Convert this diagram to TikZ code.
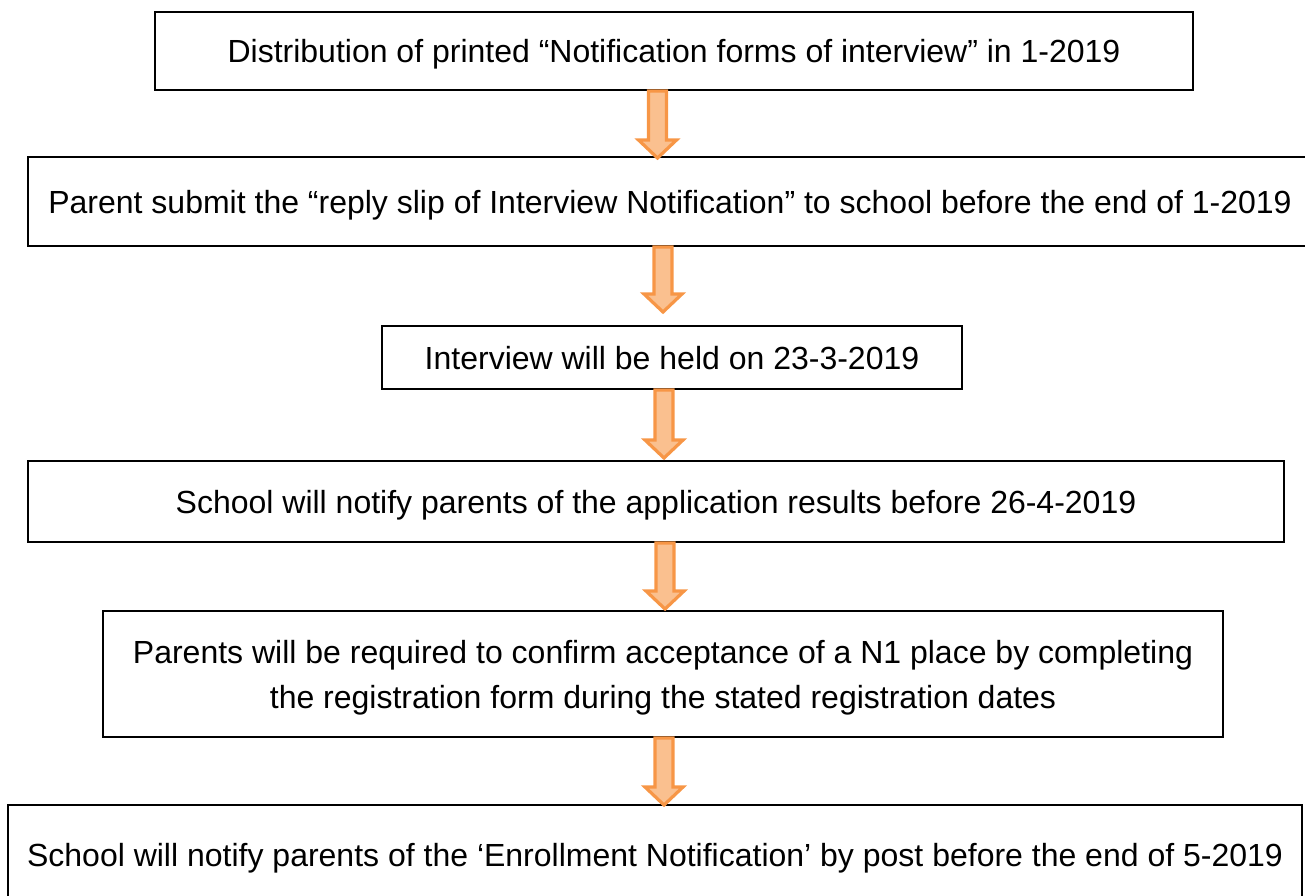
\documentclass[tikz,border=0pt]{standalone}
\usepackage{fontspec}
\setmainfont{Liberation Sans}
\usetikzlibrary{calc}
\definecolor{arrowedge}{HTML}{F79646}
\definecolor{arrowfill}{HTML}{FAC08F}
\tikzset{
  box/.style={draw=black, line width=2pt, inner sep=0pt, align=center,
    text height=23pt, text depth=0pt,
    font=\fontsize{32}{45}\selectfont},
  barrow/.style={draw=arrowedge, fill=arrowfill, line width=3.2pt, line join=miter},
}
\newcommand\blockarr[2]{%
  \draw[barrow] ($(#1)+(-9,0)$) -- ($(#2)+(-9,-19)$) -- ($(#2)+(-19,-19)$) -- ($(#2)+(0,-1)$)
    -- ($(#2)+(19,-19)$) -- ($(#2)+(9,-19)$) -- ($(#1)+(9,0)$) -- cycle;}
\begin{document}
\begin{tikzpicture}[x=1pt,y=-1pt]
\useasboundingbox (0,0) rectangle (1305,895);
\clip (0,0) rectangle (1305,895);
\node[box, minimum width=1038pt, minimum height=78pt] (b1) at (674,51)
  {Distribution of printed “Notification forms of interview” in 1-2019};
\node[box, minimum width=1284pt, minimum height=89pt] (b2) at (670,201.5)
  {Parent submit the “reply slip of Interview Notification” to school before the end of 1-2019};
\node[box, minimum width=580pt, minimum height=63pt] (b3) at (672,357.5)
  {Interview will be held on 23-3-2019};
\node[box, minimum width=1256pt, minimum height=81pt] (b4) at (656,501.5)
  {School will notify parents of the application results before 26-4-2019};
\node[box, minimum width=1120pt, minimum height=126pt, text height=68pt] (b5) at (663,674)
  {Parents will be required to confirm acceptance of a N1 place by completing\\the registration form during the stated registration dates};
\node[box, minimum width=1294pt, minimum height=100pt] (b6) at (655,855)
  {School will notify parents of the ‘Enrollment Notification’ by post before the end of 5-2019};
\coordinate (a1s) at (657.5,91);  \coordinate (a1e) at (657.5,159);
\coordinate (a2s) at (663,247);   \coordinate (a2e) at (663,313);
\coordinate (a3s) at (664,390);   \coordinate (a3e) at (664,459);
\coordinate (a4s) at (665,543);   \coordinate (a4e) at (665,610);
\coordinate (a5s) at (664,738);   \coordinate (a5e) at (664,806);
\blockarr{a1s}{a1e}
\blockarr{a2s}{a2e}
\blockarr{a3s}{a3e}
\blockarr{a4s}{a4e}
\blockarr{a5s}{a5e}
\end{tikzpicture}
\end{document}
